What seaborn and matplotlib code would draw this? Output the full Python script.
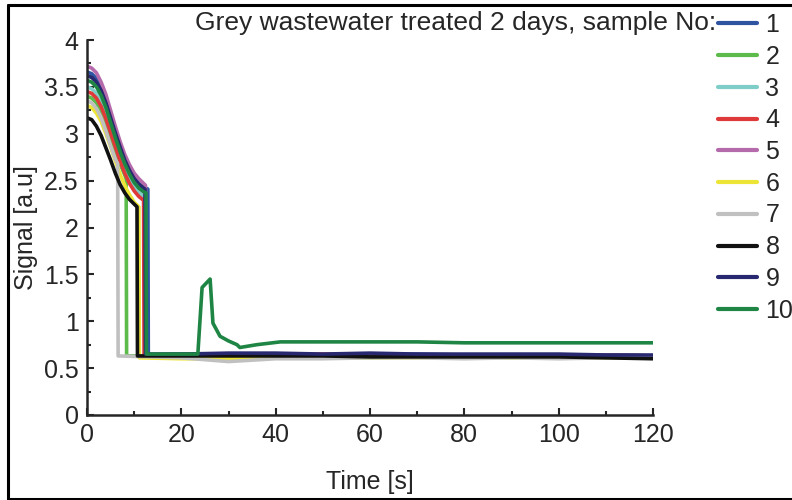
import matplotlib
matplotlib.use("Agg")
import matplotlib.pyplot as plt
from matplotlib.lines import Line2D
from matplotlib.ticker import MultipleLocator, FormatStrFormatter
import seaborn as sns
import pandas as pd

# --- data ------------------------------------------------------------------
samples = ["1", "2", "3", "4", "5", "6", "7", "8", "9", "10"]
colors = ["#2e54a1", "#5cbb4a", "#7fcdc8", "#e0393a", "#b56bab",
          "#ece535", "#c0c0c0", "#111111", "#27286f", "#1f8544"]

# decay part: values at t = 0, 1, 2, ... up to the drop, then at the drop time
decay_t = [0, 1, 2, 3, 4, 5, 6, 7, 8, 9, 10, 11, 12]
drop_time = [12.9, 8.3, 12.2, 12.0, 12.4, 11.0, 6.5, 10.6, 12.3, 12.5]

s1_decay = [3.66, 3.64, 3.59, 3.50, 3.37, 3.21, 3.05, 2.89, 2.75, 2.63, 2.54, 2.47, 2.43, 2.41]
s2_decay = [3.40, 3.38, 3.33, 3.24, 3.12, 2.97, 2.82, 2.68, 2.56, 2.52]
s3_decay = [3.50, 3.48, 3.43, 3.34, 3.21, 3.06, 2.90, 2.75, 2.62, 2.51, 2.43, 2.37, 2.33, 2.32]
s4_decay = [3.45, 3.43, 3.38, 3.29, 3.16, 3.01, 2.86, 2.71, 2.58, 2.47, 2.39, 2.33, 2.29, 2.29]
s5_decay = [3.72, 3.70, 3.65, 3.55, 3.42, 3.25, 3.08, 2.92, 2.78, 2.67, 2.58, 2.52, 2.47, 2.45]
s6_decay = [3.30, 3.28, 3.22, 3.13, 3.00, 2.86, 2.71, 2.57, 2.45, 2.35, 2.27, 2.22, 2.22]
s7_decay = [3.35, 3.33, 3.27, 3.17, 3.03, 2.87, 2.73, 2.68]
s8_decay = [3.17, 3.15, 3.08, 2.98, 2.85, 2.72, 2.58, 2.46, 2.37, 2.30, 2.25, 2.22]
s9_decay = [3.62, 3.60, 3.55, 3.46, 3.33, 3.17, 3.01, 2.86, 2.72, 2.61, 2.52, 2.46, 2.42, 2.41]
s10_decay = [3.57, 3.55, 3.50, 3.41, 3.28, 3.12, 2.96, 2.81, 2.68, 2.57, 2.48, 2.42, 2.38, 2.37]

# baseline after the drop: value right after the drop, then at tail_t
tail_t = [20, 30, 40, 50, 60, 70, 80, 90, 100, 110, 120]
s1_tail = [0.64, 0.65, 0.64, 0.65, 0.64, 0.64, 0.65, 0.64, 0.64, 0.63, 0.64, 0.63]
s2_tail = [0.63, 0.63, 0.63, 0.62, 0.63, 0.63, 0.62, 0.63, 0.62, 0.62, 0.63, 0.62]
s3_tail = [0.62, 0.62, 0.61, 0.62, 0.62, 0.61, 0.62, 0.62, 0.61, 0.62, 0.62, 0.61]
s4_tail = [0.64, 0.64, 0.64, 0.64, 0.65, 0.64, 0.64, 0.64, 0.64, 0.64, 0.64, 0.63]
s5_tail = [0.64, 0.64, 0.64, 0.63, 0.64, 0.64, 0.63, 0.64, 0.63, 0.63, 0.64, 0.63]
s6_tail = [0.61, 0.60, 0.60, 0.61, 0.61, 0.61, 0.61, 0.62, 0.61, 0.61, 0.61, 0.61]
s7_tail = [0.63, 0.61, 0.57, 0.60, 0.60, 0.61, 0.61, 0.60, 0.61, 0.60, 0.61, 0.61]
s8_tail = [0.63, 0.63, 0.63, 0.63, 0.63, 0.62, 0.62, 0.62, 0.62, 0.62, 0.61, 0.60]
s9_tail = [0.65, 0.65, 0.66, 0.66, 0.65, 0.66, 0.65, 0.65, 0.65, 0.65, 0.64, 0.64]

# sample 10 has a peak after ~24 s
s10_tail_t = [20, 23.5, 24.4, 26.1, 26.7, 28.2, 30, 31.8, 32.4, 36, 41,
              50, 60, 70, 80, 90, 100, 110, 120]
s10_tail = [0.65, 0.65, 0.65, 1.36, 1.45, 0.98, 0.84, 0.79, 0.75, 0.72, 0.75, 0.78,
            0.78, 0.78, 0.78, 0.77, 0.77, 0.77, 0.77, 0.77]

decays = [s1_decay, s2_decay, s3_decay, s4_decay, s5_decay,
          s6_decay, s7_decay, s8_decay, s9_decay, s10_decay]
tails = [s1_tail, s2_tail, s3_tail, s4_tail, s5_tail,
         s6_tail, s7_tail, s8_tail, s9_tail, s10_tail]

rows = []
for i, name in enumerate(samples):
    d = decays[i]
    t_pts = decay_t[:len(d) - 1] + [drop_time[i]]
    t_after = tail_t if name != "10" else s10_tail_t
    t_pts = t_pts + [drop_time[i] + 0.1] + t_after
    y_pts = d + tails[i]
    for t, y in zip(t_pts, y_pts):
        rows.append({"Time": t, "Signal": y, "Sample": name})
df = pd.DataFrame(rows)

# --- plot --------------------------------------------------------------------
sns.set_style("ticks")
plt.rcParams["font.family"] = ["Liberation Sans", "DejaVu Sans"]

fig = plt.figure(figsize=(7.92, 5.0), dpi=100)
ax = fig.add_axes([87 / 792, 85 / 500, (653 - 87) / 792, (415 - 40) / 500])

sns.lineplot(data=df, x="Time", y="Signal", hue="Sample", hue_order=samples,
             palette=colors, sort=False, estimator=None, linewidth=2.6,
             legend=False, ax=ax)

ax.set_xlim(0, 120)
ax.set_ylim(0, 4)
ax.xaxis.set_major_locator(MultipleLocator(20))
ax.xaxis.set_minor_locator(MultipleLocator(10))
ax.yaxis.set_major_locator(MultipleLocator(0.5))
ax.yaxis.set_minor_locator(MultipleLocator(0.25))
ax.yaxis.set_major_formatter(FormatStrFormatter("%g"))
ax.tick_params(which="major", direction="in", length=5, width=1.5,
               labelsize=18, pad=6)
ax.tick_params(which="minor", direction="in", length=3, width=1.5)
sns.despine(ax=ax)
for sp in ["left", "bottom"]:
    ax.spines[sp].set_linewidth(1.8)
ax.set_xlabel("Time [s]", fontsize=18, labelpad=16)
ax.set_ylabel("Signal [a.u]", fontsize=18, labelpad=4)

handles = [Line2D([], [], color=c, lw=3) for c in colors]
fig.legend(handles, samples, loc="upper left", bbox_to_anchor=(718 / 792, 1 - 13 / 500),
           frameon=False, fontsize=18, handlelength=1.55, handletextpad=0.35,
           labelspacing=0.31, borderpad=0, borderaxespad=0)
fig.text(716 / 792, 1 - 23 / 500, "Grey wastewater treated 2 days, sample No:",
         ha="right", va="center", fontsize=19)

# frame around the figure
fig.add_artist(Line2D([7.5 / 792, 7.5 / 792], [1 / 500, 1 - 5 / 500], color="black", lw=2.2))
fig.add_artist(Line2D([7.5 / 792, 1], [1 - 5 / 500, 1 - 5 / 500], color="black", lw=2.2))
fig.add_artist(Line2D([7.5 / 792, 1], [1.5 / 500, 1.5 / 500], color="black", lw=2.2))

fig.savefig("out.png", dpi=100)
